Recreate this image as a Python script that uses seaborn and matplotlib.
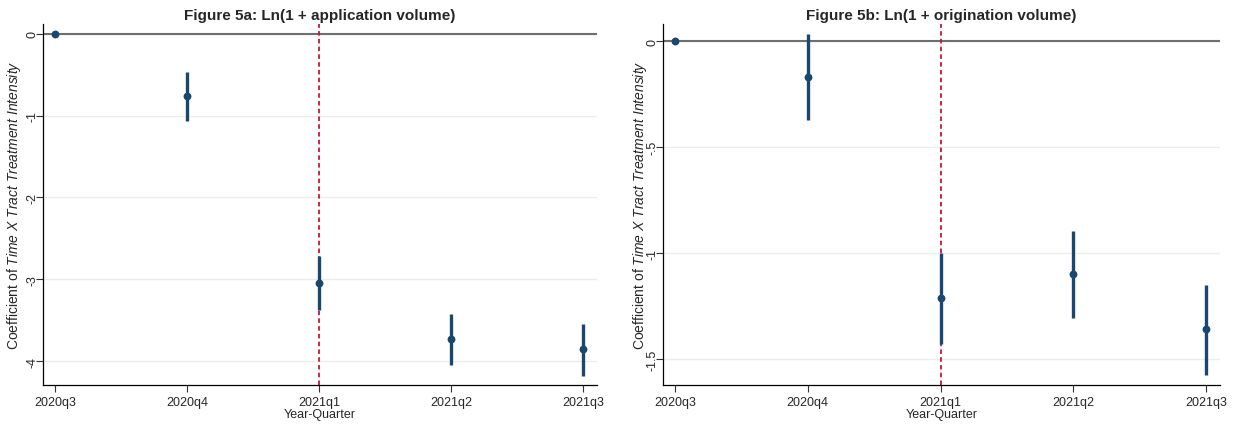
import matplotlib
matplotlib.use("Agg")
import matplotlib.pyplot as plt
import seaborn as sns
import numpy as np
import pandas as pd

quarters = ["2020q3", "2020q4", "2021q1", "2021q2", "2021q3"]

app_est = [0.0, -0.76, -3.04, -3.73, -3.85]
app_lo = [0.0, -1.07, -3.37, -4.05, -4.18]
app_hi = [0.0, -0.47, -2.72, -3.42, -3.55]

orig_est = [0.0, -0.17, -1.21, -1.10, -1.36]
orig_lo = [0.0, -0.373, -1.43, -1.307, -1.575]
orig_hi = [0.0, 0.033, -1.00, -0.896, -1.15]

titles = ["Figure 5a: Ln(1 + application volume)", "Figure 5b: Ln(1 + origination volume)"]
yticks_a = [0, -1, -2, -3, -4]
yticklabels_a = ["0", "-1", "-2", "-3", "-4"]
yticks_b = [0, -0.5, -1, -1.5]
yticklabels_b = ["0", "-.5", "-1", "-1.5"]

sns.set_theme(style="white")
plt.rcParams["font.family"] = ["Liberation Sans", "DejaVu Sans"]
plt.rcParams["mathtext.fontset"] = "custom"
plt.rcParams["mathtext.rm"] = "Liberation Sans"
plt.rcParams["mathtext.it"] = "Liberation Sans:italic"

fig = plt.figure(figsize=(12.39, 4.27), dpi=100)
ax1 = fig.add_axes([0.0347, 0.096, 0.447, 0.845])
ax2 = fig.add_axes([0.535, 0.096, 0.450, 0.845])

navy = "#1a476f"
red = "#c4163f"

panels = [
    (ax1, app_est, app_lo, app_hi, yticks_a, yticklabels_a, (-4.29, 0.115), -0.037),
    (ax2, orig_est, orig_lo, orig_hi, yticks_b, yticklabels_b, (-1.622, 0.08), -0.025),
]

for i, (ax, est, lo, hi, yt, ytl, ylim, lx) in enumerate(panels):
    df = pd.DataFrame({"x": np.arange(len(quarters)), "est": est, "lo": lo, "hi": hi})
    ax.set_ylim(*ylim)
    ax.set_xlim(-0.091, len(quarters) - 1 + 0.106)
    for t in yt:
        ax.axhline(t, color="#ececec", lw=1.0, zorder=0)
    ax.axhline(0, color="#6e6e6e", lw=1.5, zorder=1)
    ax.axvline(2, color=red, lw=1.3, ls=(0, (2.5, 1.8)), zorder=1)
    ci = df.iloc[1:]
    ax.vlines(ci["x"], ci["lo"], ci["hi"], color=navy, lw=2.4, zorder=3)
    sns.scatterplot(data=df, x="x", y="est", ax=ax, color=navy, s=32,
                    edgecolor=navy, linewidth=0, zorder=4, legend=False)
    ax.set_xticks(range(len(quarters)))
    ax.set_xticklabels(quarters, fontsize=9)
    ax.set_yticks(yt)
    ax.set_yticklabels(ytl, fontsize=9, rotation=90, va="center")
    ax.tick_params(axis="both", which="major", direction="out", length=5,
                   width=0.8, color="#333333", left=True, bottom=True, pad=3)
    ax.tick_params(axis="y", pad=-2)
    for s in ["top", "right"]:
        ax.spines[s].set_visible(False)
    for s in ["left", "bottom"]:
        ax.spines[s].set_color("black")
        ax.spines[s].set_linewidth(0.9)
    ax.set_xlabel("Year-Quarter", fontsize=9, labelpad=0)
    ax.set_ylabel(r"Coefficient of $\it{Time\ X\ Tract\ Treatment\ Intensity}$",
                  fontsize=10)
    ax.yaxis.set_label_coords(lx, 0.5)
    ax.set_title(titles[i], fontsize=11, fontweight="bold", pad=4)
    ax.grid(False)

fig.savefig("out.png", dpi=100, facecolor="white")
